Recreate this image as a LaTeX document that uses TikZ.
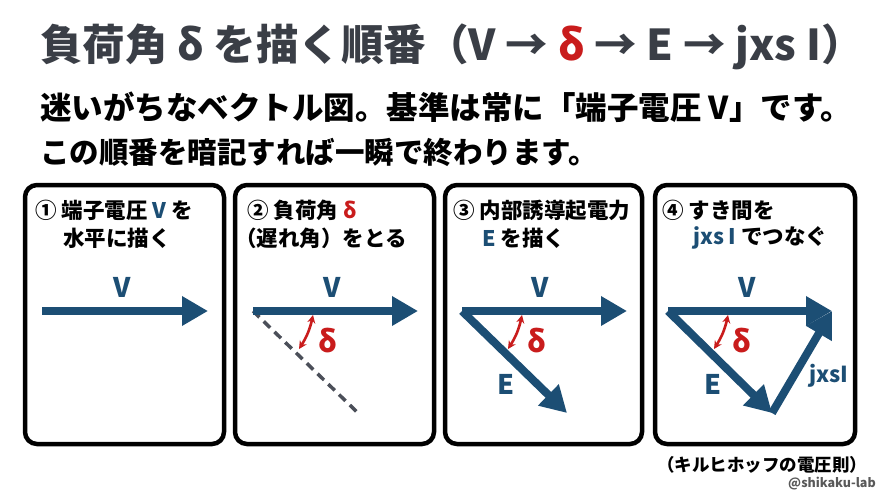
\documentclass[tikz,border=0pt]{standalone}
\usepackage{fontspec}
\setmainfont{Noto Sans CJK JP}
\newfontfamily\heavyfont{Noto Sans CJK JP Black}
\usetikzlibrary{arrows.meta}
\definecolor{vblue}{HTML}{1C4E74}
\definecolor{tgray}{HTML}{3A3E46}
\definecolor{dred}{HTML}{C91C1C}
\definecolor{dgray}{HTML}{4B4F59}
\tikzset{
  panel/.style={draw=black,line width=4.5pt,rounded corners=12pt},
  vec/.style={draw=vblue,line width=8pt,-{Triangle[length=26pt,width=28pt]}},
  dashref/.style={draw=dgray,line width=3.5pt,dash pattern=on 9pt off 6pt},
  dlt/.style={draw=dred,line width=2.6pt,{Stealth[length=8pt,width=8pt]}-{Stealth[length=8pt,width=8pt]}},
  head/.style={font=\fontsize{21.5}{26}\selectfont\bfseries,inner sep=0pt,anchor=west},
  lead/.style={font=\heavyfont,anchor=west,inner sep=0pt},
  vlab/.style={font=\fontsize{27}{30}\selectfont\bfseries,text=vblue},
  dlab/.style={font=\fontsize{30}{32}\selectfont\bfseries,text=dred},
}

\begin{document}
\begin{tikzpicture}[x=1pt,y=-1pt]
\useasboundingbox (0,0) rectangle (880,495);
\fill[white] (0,0) rectangle (880,495);

\node[font=\fontsize{42.5}{48}\selectfont\bfseries,text=tgray,anchor=west,inner sep=0pt] (title) at (40,47) {負荷角 δ を描く順番（V → \textcolor{dred}{δ} → E → jxs I）};
\node[lead] (lead1) at (40,107) {\fontsize{31.5}{34}\selectfont 迷いがちなベクトル図。基準は常に「端子電圧 V」です。};
\node[lead] (lead2) at (40,152) {\fontsize{29.5}{34}\selectfont この順番を暗記すれば一瞬で終わります。};

\draw[panel] (25,185) rectangle (224,444);
\draw[panel] (235,185) rectangle (434,444);
\draw[panel] (445,185) rectangle (642,444);
\draw[panel] (655,185) rectangle (855,444);

\node[head] (h1a) at (35,210) {① 端子電圧 \textcolor{vblue}{V} を};
\node[head] (h1b) at (63,238) {水平に描く};
\node[head] (h2a) at (247,210) {② 負荷角 \textcolor{dred}{δ}};
\node[head] (h2b) at (235,238) {（遅れ角）をとる};
\node[head] (h3a) at (453,210) {③ 内部誘導起電力};
\node[head] (h3b) at (482,238) {\textcolor{vblue}{E} を描く};
\node[head] (h4a) at (662,210) {④ すき間を};
\node[head] (h4b) at (693,238) {\textcolor{vblue}{jxs I} でつなぐ};

\coordinate (o1) at (42,311);
\coordinate (v1) at (208,311);
\draw[vec] (o1) -- (v1);
\node[vlab] (lv1) at (122,287) {V};

\coordinate (o2) at (253,311);
\coordinate (v2) at (418,311);
\coordinate (e2) at (358,413);
\coordinate (d2a) at (313,315);
\coordinate (d2b) at (299,349);
\draw[dashref] (o2) -- (e2);
\draw[vec] (o2) -- (v2);
\draw[dlt] (d2a) to[bend left=10] (d2b);
\node[vlab] (lv2) at (332,287) {V};
\node[dlab] (ld2) at (328,341) {δ};

\coordinate (o3) at (462,311);
\coordinate (v3) at (627,311);
\coordinate (e3) at (567,413);
\coordinate (d3a) at (522,315);
\coordinate (d3b) at (508,349);
\draw[vec] (o3) -- (e3);
\draw[vec] (o3) -- (v3);
\draw[dlt] (d3a) to[bend left=10] (d3b);
\node[vlab] (lv3) at (540,287) {V};
\node[dlab] (ld3) at (537,341) {δ};
\node[vlab] (le3) at (506,384) {E};

\coordinate (o4) at (668,311);
\coordinate (v4) at (832,311);
\coordinate (e4) at (772,413);
\coordinate (d4a) at (728,315);
\coordinate (d4b) at (714,349);
\draw[vec] (o4) -- (e4);
\draw[vec] (o4) -- (v4);
\draw[vec] (e4) -- (v4);
\draw[dlt] (d4a) to[bend left=10] (d4b);
\node[vlab] (lv4) at (747,287) {V};
\node[dlab] (ld4) at (742,341) {δ};
\node[vlab] (le4) at (713,384) {E};
\node[font=\fontsize{22}{26}\selectfont\bfseries,text=vblue] (lj4) at (829,376) {jxsI};

\node[font=\fontsize{17.5}{20}\selectfont\bfseries] (kvl) at (762,465) {（キルヒホッフの電圧則）};
\node[font=\fontsize{12.5}{15}\selectfont\bfseries,text=black!65] (credit) at (832,484) {@shikaku-lab};
\end{tikzpicture}
\end{document}
